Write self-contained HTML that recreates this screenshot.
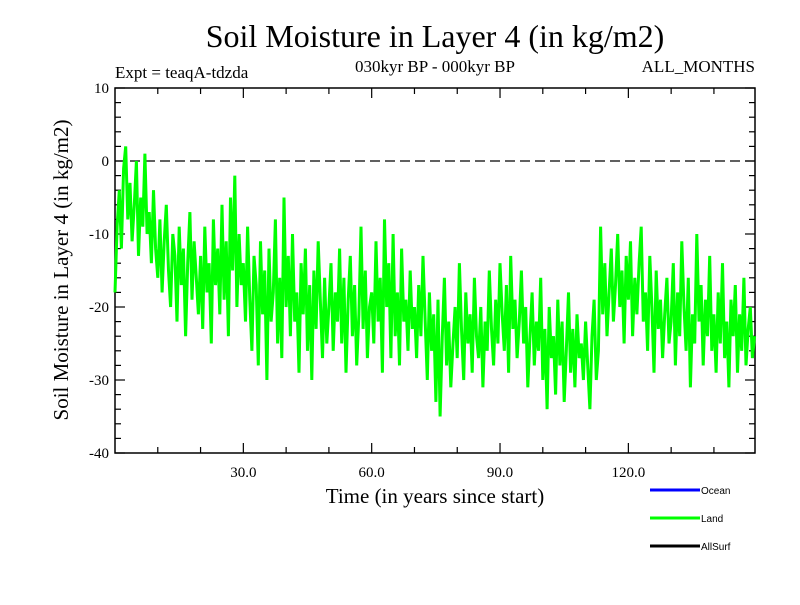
<!DOCTYPE html>
<html><head><meta charset="utf-8"><style>
body{margin:0;background:#fff;}
svg text{font-family:"Liberation Serif",serif;}
</style></head><body>
<svg id="chart" width="800" height="600" viewBox="0 0 800 600" xmlns="http://www.w3.org/2000/svg">
<rect width="800" height="600" fill="#fff"/>
<text x="435" y="47" font-size="32" text-anchor="middle">Soil Moisture in Layer 4 (in kg/m2)</text>
<text x="115" y="78" font-size="17">Expt = teaqA-tdzda</text>
<text x="435" y="72" font-size="17" text-anchor="middle">030kyr BP - 000kyr BP</text>
<text x="755" y="72" font-size="17" text-anchor="end">ALL_MONTHS</text>
<text transform="translate(68,270) rotate(-90)" font-size="21" text-anchor="middle">Soil Moisture in Layer 4 (in kg/m2)</text>
<text x="435" y="503" font-size="21" text-anchor="middle">Time (in years since start)</text>
<g id="axes"></g>
<g id="series"></g>
<g>
<line x1="650" y1="490" x2="700" y2="490" stroke="#0000ff" stroke-width="3"/>
<text x="701" y="494" font-size="10" style="font-family:'Liberation Sans',sans-serif">Ocean</text>
<line x1="650" y1="518" x2="700" y2="518" stroke="#00ff00" stroke-width="3"/>
<text x="701" y="522" font-size="10" style="font-family:'Liberation Sans',sans-serif">Land</text>
<line x1="650" y1="546" x2="700" y2="546" stroke="#000" stroke-width="3"/>
<text x="701" y="550" font-size="10" style="font-family:'Liberation Sans',sans-serif">AllSurf</text>
</g>
</svg>
<script>
const xTickValues=[30,60,90,120];
const xTickLabels=["30.0","60.0","90.0","120.0"];
const yTickValues=[10,0,-10,-20,-30,-40];
const yTickLabels=["10","0","-10","-20","-30","-40"];
const timeStep=0.5;
const landValues=[
-18,-9,-4,-12,-1,2,-8,-3,-11,-6,0,-13,-5,-9,1,-10,-7,-14,-4,-12,
-16,-8,-18,-11,-6,-15,-20,-10,-13,-22,-9,-17,-12,-24,-14,-7,-19,-11,-16,-21,
-13,-23,-9,-18,-14,-25,-8,-17,-12,-21,-6,-19,-11,-24,-5,-15,-2,-20,-10,-17,
-14,-22,-9,-19,-26,-13,-17,-28,-11,-21,-15,-30,-12,-22,-18,-8,-25,-16,-27,-5,
-20,-13,-24,-10,-22,-18,-29,-14,-21,-12,-26,-17,-30,-15,-23,-11,-19,-27,-16,-25,
-20,-14,-26,-18,-22,-12,-25,-16,-29,-19,-13,-24,-17,-28,-21,-9,-23,-15,-27,-20,
-18,-25,-11,-22,-16,-29,-8,-20,-14,-27,-10,-24,-18,-28,-12,-22,-19,-26,-15,-23,
-20,-27,-17,-24,-13,-22,-30,-18,-26,-21,-33,-19,-35,-24,-16,-28,-22,-31,-25,-20,
-27,-14,-23,-30,-18,-25,-21,-29,-16,-24,-27,-20,-31,-22,-26,-15,-23,-28,-19,-25,
-14,-21,-26,-17,-29,-13,-23,-19,-27,-22,-15,-25,-20,-31,-24,-18,-28,-22,-26,-16,
-30,-23,-34,-20,-27,-24,-32,-19,-28,-22,-33,-26,-18,-29,-23,-31,-21,-27,-25,-30,
-22,-28,-34,-24,-19,-30,-26,-9,-21,-14,-24,-18,-12,-22,-17,-10,-20,-15,-25,-13,
-19,-11,-24,-16,-21,-14,-9,-22,-18,-26,-13,-20,-29,-15,-23,-19,-27,-21,-16,-25,
-22,-14,-28,-18,-24,-11,-20,-26,-16,-31,-21,-25,-10,-22,-17,-28,-19,-24,-13,-26,
-21,-29,-18,-25,-14,-27,-22,-31,-19,-24,-17,-29,-21,-26,-16,-28,-23,-20,-27,-24];
const NS="http://www.w3.org/2000/svg";
const L=115,R=755,T=88,B=453,xMin=0,xMax=149.6,yMin=-40,yMax=10;
function xs(v){return L+(v-xMin)/(xMax-xMin)*(R-L);}
function ys(v){return B-(v-yMin)/(yMax-yMin)*(B-T);}
function mk(tag,attrs,parent){const e=document.createElementNS(NS,tag);for(const k in attrs)e.setAttribute(k,attrs[k]);parent.appendChild(e);return e;}
const ax=document.getElementById('axes');
const frame=mk('rect',{x:L,y:T,width:R-L,height:B-T,fill:'none',stroke:'#000','stroke-width':1.5},ax);


for(let v=yMin;v<=yMax;v+=2){
  const major=(v%10===0);const len=major?10:6;const y=ys(v);
  const t1=mk('line',{x1:L,y1:y,x2:L+len,y2:y,stroke:'#000','stroke-width':1.2},ax);
  
  
  const t2=mk('line',{x1:R,y1:y,x2:R-len,y2:y,stroke:'#000','stroke-width':1.2},ax);
  
  
}
yTickValues.forEach((v,i)=>{
  const t=mk('text',{x:L-6,y:ys(v)+5,'font-size':15,'text-anchor':'end'},ax);
  t.textContent=yTickLabels[i];
  
  
});
for(let v=10;v<xMax;v+=10){
  const major=(v%30===0);const len=major?10:6;const x=xs(v);
  const t1=mk('line',{x1:x,y1:B,x2:x,y2:B-len,stroke:'#000','stroke-width':1.2},ax);
  
  
  const t2=mk('line',{x1:x,y1:T,x2:x,y2:T+len,stroke:'#000','stroke-width':1.2},ax);
  
  
}
xTickValues.forEach((v,i)=>{
  const t=mk('text',{x:xs(v),y:B+24,'font-size':15,'text-anchor':'middle'},ax);
  t.textContent=xTickLabels[i];
  
  
});
const zero=mk('line',{x1:L,y1:ys(0),x2:R,y2:ys(0),stroke:'#000','stroke-width':1.2,'stroke-dasharray':'10,5'},ax);


const sg=document.getElementById('series');
const pts=landValues.map((v,i)=>xs(i*timeStep).toFixed(1)+','+ys(v).toFixed(1)).join(' ');
const pl=mk('polyline',{points:pts,fill:'none',stroke:'#00ff00','stroke-width':3,'stroke-linejoin':'miter'},sg);


</script>
</body></html>
